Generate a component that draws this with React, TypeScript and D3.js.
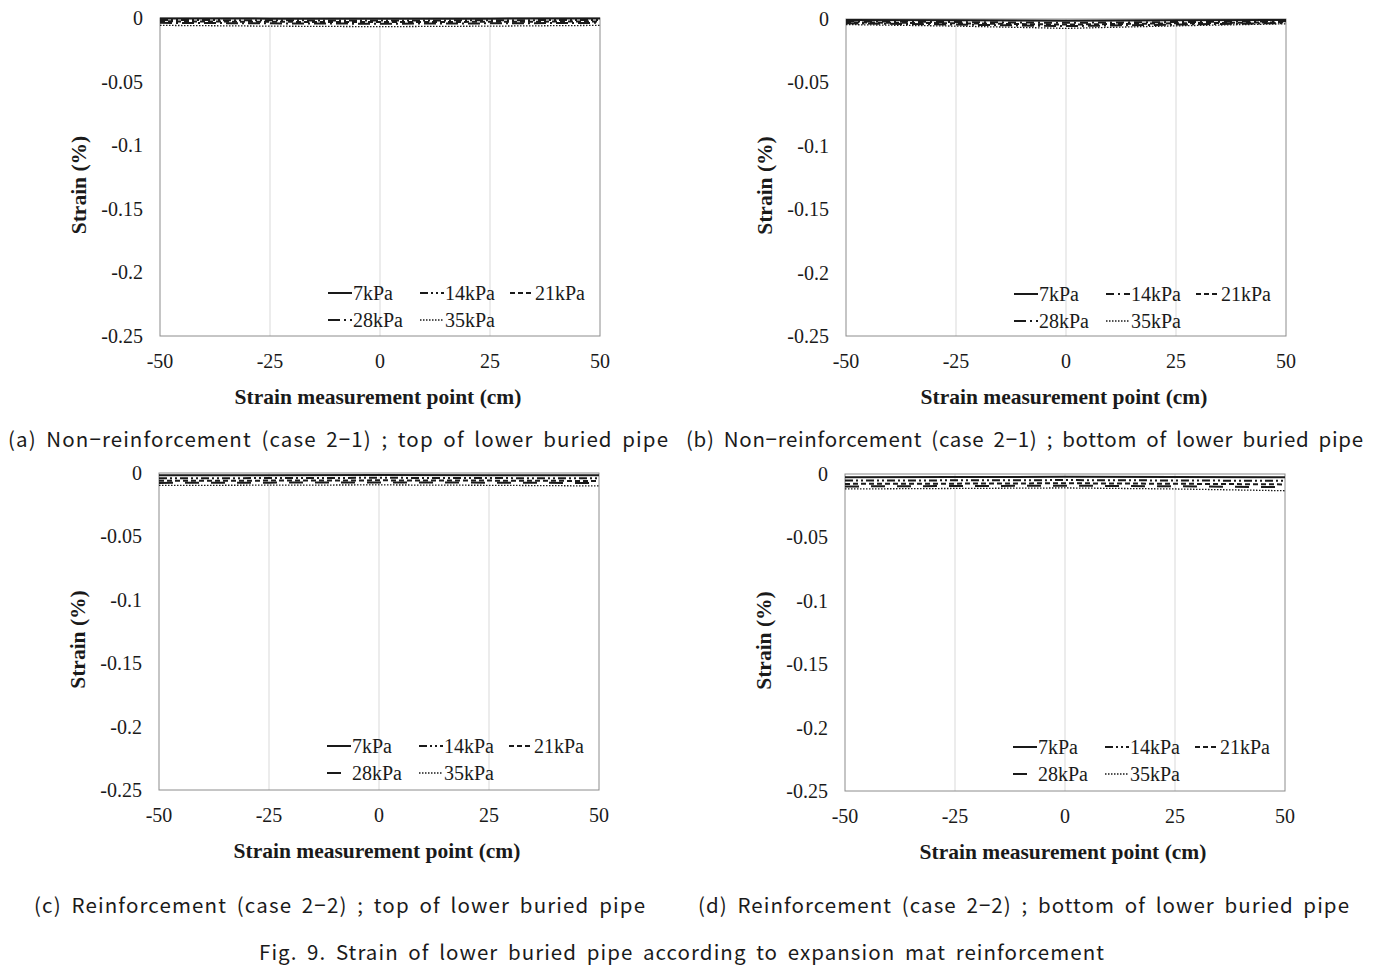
import React from "react";
import * as d3 from "d3";

// ---- Data ----
const xPoints = [-50, -25, 0, 25, 50];
const seriesNames = ["7kPa", "14kPa", "21kPa", "28kPa", "35kPa"];
const xTicks = [-50, -25, 0, 25, 50];
const yTicks = [0, -0.05, -0.1, -0.15, -0.2, -0.25];

// Panel (a) Non-reinforcement, top
const a7 = [-0.0004, -0.0005, -0.0005, -0.0005, -0.0004];
const a14 = [-0.0015, -0.0018, -0.002, -0.0018, -0.0015];
const a21 = [-0.0026, -0.003, -0.0032, -0.003, -0.0027];
const a28 = [-0.0038, -0.0042, -0.0045, -0.0042, -0.0038];
const a35 = [-0.0058, -0.0064, -0.0068, -0.0064, -0.0058];
// Panel (b) Non-reinforcement, bottom
const b7 = [-0.0008, -0.001, -0.0014, -0.001, -0.0008];
const b14 = [-0.0018, -0.0024, -0.003, -0.0024, -0.0018];
const b21 = [-0.0026, -0.0034, -0.0044, -0.0034, -0.0026];
const b28 = [-0.0034, -0.0044, -0.0056, -0.0044, -0.0032];
const b35 = [-0.0044, -0.0056, -0.0074, -0.0054, -0.0038];
// Panel (c) Reinforcement, top
const c7 = [-0.0018, -0.0017, -0.0016, -0.0017, -0.0018];
const c14 = [-0.0042, -0.004, -0.0038, -0.004, -0.0042];
const c21 = [-0.0062, -0.006, -0.0058, -0.006, -0.0063];
const c28 = [-0.0078, -0.0076, -0.0074, -0.0076, -0.0079];
const c35 = [-0.0098, -0.0096, -0.0094, -0.0097, -0.0102];
// Panel (d) Reinforcement, bottom
const d7 = [-0.0025, -0.0024, -0.0022, -0.0024, -0.0026];
const d14 = [-0.0052, -0.005, -0.0048, -0.0051, -0.0054];
const d21 = [-0.0078, -0.0076, -0.0073, -0.0077, -0.0082];
const d28 = [-0.0098, -0.0095, -0.0092, -0.0097, -0.0104];
const d35 = [-0.0118, -0.0114, -0.011, -0.0118, -0.0132];

const captions = [
  "(a) Non\u2212reinforcement (case 2\u22121) ; top of lower buried pipe",
  "(b) Non\u2212reinforcement (case 2\u22121) ; bottom of lower buried pipe",
  "(c) Reinforcement (case 2\u22122) ; top of lower buried pipe",
  "(d) Reinforcement (case 2\u22122) ; bottom of lower buried pipe",
];
const figCaption = "Fig. 9. Strain of lower buried pipe according to expansion mat reinforcement";
const yTitle = "Strain (%)";
const xTitle = "Strain measurement point (cm)";

// ---- Layout / style ----
const panels = [
  { data: [a7, a14, a21, a28, a35], left: 160, right: 600, top: 18, bottom: 336, cap: { x: 8, y: 440, w: 660 }, legTop: 293, alt: false, dash14: "8,3,2,3,2,3" },
  { data: [b7, b14, b21, b28, b35], left: 846, right: 1286, top: 19, bottom: 336, cap: { x: 686, y: 440, w: 677 }, legTop: 294, alt: false, dash14: "8,4,2,4" },
  { data: [c7, c14, c21, c28, c35], left: 159, right: 599, top: 473, bottom: 790, cap: { x: 34, y: 906, w: 611 }, legTop: 746, alt: true, dash14: "8,3,2,3,2,3" },
  { data: [d7, d14, d21, d28, d35], left: 845, right: 1285, top: 474, bottom: 791, cap: { x: 698, y: 906, w: 651 }, legTop: 747, alt: true, dash14: "8,3,2,3,2,3" },
];

const serif = "'Liberation Serif', 'Times New Roman', serif";
const sans = "'Noto Sans CJK KR', 'Noto Sans', sans-serif";
const ink = "#1a1a1a";

function styleFor(i: number, p: any) {
  switch (i) {
    case 0: return { dash: "none", w: 2 };
    case 1: return { dash: p.dash14, w: 2 };
    case 2: return { dash: "5,3", w: 2 };
    case 3: return { dash: p.alt ? "14,12" : "12,4,2,4", w: 2 };
    default: return { dash: "1.5,1.5", w: 1.3 };
  }
}

function Panel({ p, idx }: { p: any; idx: number }) {
  const x = d3.scaleLinear().domain([-50, 50]).range([p.left, p.right]);
  const y = d3.scaleLinear().domain([0, -0.25]).range([p.top, p.bottom]);
  const line = d3.line<number>().x((_, i) => x(xPoints[i])).y((v) => y(v));
  const cx = (p.left + p.right) / 2;
  const cy = (p.top + p.bottom) / 2;
  const legCols = [p.left + 168, p.left + 260, p.left + 350];
  const legItems = seriesNames.map((n, i) => ({
    n, i,
    lx: legCols[i % 3],
    ly: p.legTop + (i >= 3 ? 27 : 0),
  }));
  return (
    <g>
      {xTicks.slice(1, -1).map((t) => (
        <line key={t} x1={x(t)} x2={x(t)} y1={p.top} y2={p.bottom} stroke="#d9d9d9" strokeWidth={1} />
      ))}
      <rect x={p.left} y={p.top} width={p.right - p.left} height={p.bottom - p.top} fill="none" stroke="#8c8c8c" strokeWidth={1} />
      {p.data.map((s: number[], i: number) => {
        const st = styleFor(i, p);
        return (
          <path key={i} d={line(s) || ""} fill="none" stroke={ink} strokeWidth={st.w}
            strokeDasharray={st.dash === "none" ? undefined : st.dash} />
        );
      })}
      {yTicks.map((t) => (
        <text key={t} x={p.left - 17} y={y(t)} dy="0.35em" textAnchor="end" fontFamily={serif} fontSize={20} fill={ink}>
          {t === 0 ? "0" : String(t)}
        </text>
      ))}
      {xTicks.map((t) => (
        <text key={t} x={x(t)} y={p.bottom + 25} dy="0.35em" textAnchor="middle" fontFamily={serif} fontSize={20} fill={ink}>
          {t}
        </text>
      ))}
      <text transform={`translate(${p.left - 82},${cy + 8}) rotate(-90)`} textAnchor="middle" dy="0.35em" fontFamily={serif} fontWeight="bold" fontSize={21.5} fill={ink}>
        {yTitle}
      </text>
      <text x={cx - 2} y={p.bottom + 60} dy="0.35em" textAnchor="middle" fontFamily={serif} fontWeight="bold" fontSize={21.5} fill={ink}>
        {xTitle}
      </text>
      {legItems.map((it) => {
        const st = styleFor(it.i, p);
        return (
          <g key={it.n}>
            <line x1={it.lx} x2={it.lx + 24} y1={it.ly} y2={it.ly} stroke={ink} strokeWidth={st.w}
              strokeDasharray={st.dash === "none" ? undefined : st.dash} />
            <text x={it.lx + 25} y={it.ly} dy="0.35em" fontFamily={serif} fontSize={20} fill={ink}>{it.n}</text>
          </g>
        );
      })}
      <text x={p.cap.x} y={p.cap.y} dy="0.35em" fontFamily={sans} fontSize={20.5} fill={ink} wordSpacing={4}
        textLength={p.cap.w} lengthAdjust="spacing">
        {captions[idx]}
      </text>
    </g>
  );
}

export default function App() {
  return (
    <svg width={1382} height={970} style={{ position: "absolute", left: 0, top: 0, background: "#fff" }}>
      <rect x={0} y={0} width={1382} height={970} fill="#fff" />
      {panels.map((p, i) => <Panel key={i} p={p} idx={i} />)}
      <text x={259} y={953} dy="0.35em" fontFamily={sans} fontSize={20.5} fill={ink} wordSpacing={4} textLength={845} lengthAdjust="spacing">
        {figCaption}
      </text>
    </svg>
  );
}
